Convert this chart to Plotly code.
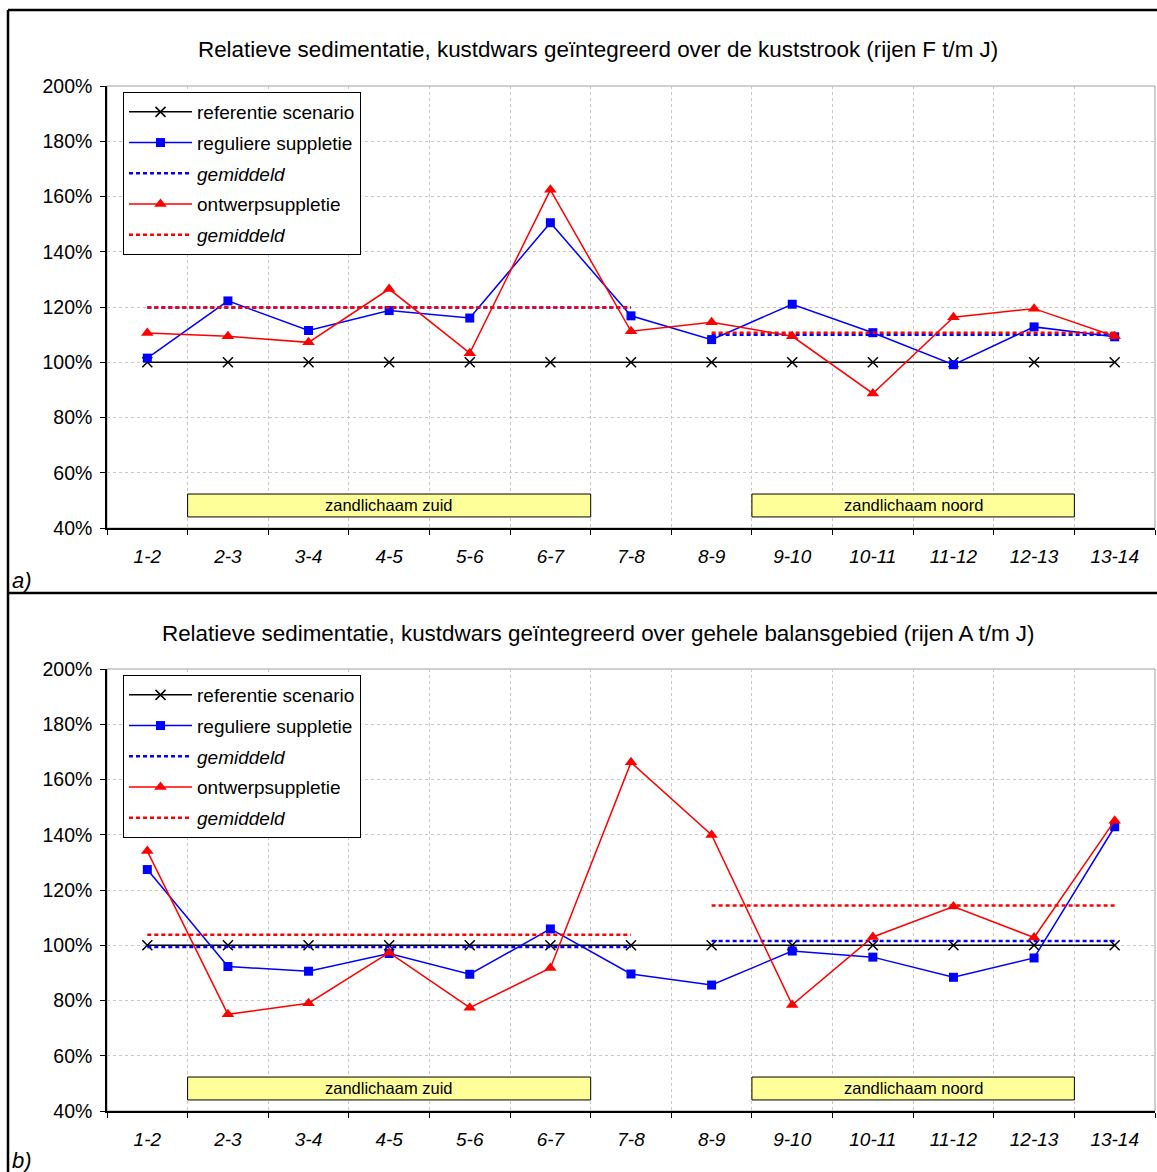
import plotly.graph_objects as go

# ---- data -------------------------------------------------------------
categories = ["1-2", "2-3", "3-4", "4-5", "5-6", "6-7", "7-8",
              "8-9", "9-10", "10-11", "11-12", "12-13", "13-14"]

referentie = [100, 100, 100, 100, 100, 100, 100, 100, 100, 100, 100, 100, 100]

# a) kuststrook (rijen F t/m J)
a_regulier = [101.5, 122.2, 111.5, 118.7, 116.0, 150.5, 116.8,
              108.2, 121.0, 110.7, 99.1, 112.8, 109.2]
a_ontwerp = [110.6, 109.4, 107.2, 126.5, 103.3, 162.4, 111.2,
             114.5, 109.4, 88.7, 116.3, 119.4, 109.4]
a_gem_regulier = [119.8, 110.0]   # zuid, noord
a_gem_ontwerp = [119.8, 110.7]

# b) gehele balansgebied (rijen A t/m J)
b_regulier = [127.4, 92.3, 90.6, 97.0, 89.5, 105.9, 89.6,
              85.6, 97.9, 95.7, 88.4, 95.4, 142.9]
b_ontwerp = [134.1, 75.0, 79.0, 97.3, 77.4, 91.8, 166.2,
             139.9, 78.4, 103.0, 114.0, 102.8, 145.1]
b_gem_regulier = [99.4, 101.5]
b_gem_ontwerp = [103.8, 114.4]

# averaging stretches (first/last category of each)
zuid_span = ["1-2", "7-8"]
noord_span = ["8-9", "13-14"]

# sand bodies: category-index extents
zand_labels = ["zandlichaam zuid", "zandlichaam noord"]
zand_x = [(0.5, 5.5), (7.5, 11.5)]
zand_y = (44.0, 52.3)

titles = [
    "Relatieve sedimentatie, kustdwars geïntegreerd over de kuststrook (rijen F t/m J)",
    "Relatieve sedimentatie, kustdwars geïntegreerd over gehele balansgebied (rijen A t/m J)",
]
panel_tags = ["a)", "b)"]

# ---- page geometry (pixels) -------------------------------------------
W, H = 1157, 1172
FONT = "Liberation Sans, Arial, sans-serif"


def px(x):
    return x / W


def py(y):
    return 1 - y / H


BLUE = "#0000FF"
RED = "#FF0000"

fig = go.Figure()

panels = [
    dict(top=86, bottom=528, title_y=50, tag_y=580, legend_top=92,
         reg=a_regulier, ont=a_ontwerp, greg=a_gem_regulier, gont=a_gem_ontwerp),
    dict(top=669, bottom=1111, title_y=633, tag_y=1160, legend_top=675,
         reg=b_regulier, ont=b_ontwerp, greg=b_gem_regulier, gont=b_gem_ontwerp),
]


def mean_xy(levels):
    xs = [zuid_span[0], zuid_span[1], None, noord_span[0], noord_span[1]]
    ys = [levels[0], levels[0], None, levels[1], levels[1]]
    return xs, ys


shapes = []
annotations = []

for i, p in enumerate(panels):
    n = "" if i == 0 else str(i + 1)
    xa, ya = "x" + n, "y" + n
    lg = "legend" + n

    fig.add_trace(go.Scatter(
        x=categories, y=referentie, name="referentie scenario",
        mode="lines+markers", xaxis=xa, yaxis=ya, legend=lg, legendgroup=f"r{i}",
        line=dict(color="black", width=1.5),
        marker=dict(symbol="x-thin", size=10, line=dict(color="black", width=1.5)),
    ))
    fig.add_trace(go.Scatter(
        x=categories, y=p["reg"], name="reguliere suppletie",
        mode="lines+markers", xaxis=xa, yaxis=ya, legend=lg, legendgroup=f"b{i}",
        line=dict(color=BLUE, width=1.5),
        marker=dict(symbol="square", size=9, color=BLUE),
    ))
    xs, ys = mean_xy(p["greg"])
    fig.add_trace(go.Scatter(
        x=xs, y=ys, name="<i>gemiddeld</i>", mode="lines", connectgaps=False,
        xaxis=xa, yaxis=ya, legend=lg, legendgroup=f"bm{i}",
        line=dict(color=BLUE, width=2.5, dash="4px,3px"),
    ))
    fig.add_trace(go.Scatter(
        x=categories, y=p["ont"], name="ontwerpsuppletie",
        mode="lines+markers", xaxis=xa, yaxis=ya, legend=lg, legendgroup=f"o{i}",
        line=dict(color=RED, width=1.5),
        marker=dict(symbol="triangle-up", size=11, color=RED),
    ))
    xs, ys = mean_xy(p["gont"])
    fig.add_trace(go.Scatter(
        x=xs, y=ys, name="<i>gemiddeld</i>", mode="lines", connectgaps=False,
        xaxis=xa, yaxis=ya, legend=lg, legendgroup=f"om{i}",
        line=dict(color=RED, width=2.5, dash="4px,3px"),
    ))

    dom_y = [py(p["bottom"]), py(p["top"])]
    axis_common = dict(
        showline=True, linecolor="black", linewidth=1.5,
        ticks="outside", ticklen=5, tickcolor="black", tickwidth=1,
        showgrid=True, gridcolor="#C8C8C8", gridwidth=1, griddash="3px,3px",
        zeroline=False, fixedrange=True, automargin=False,
    )
    fig.update_layout({
        "xaxis" + n: dict(
            axis_common, domain=[px(107), px(1155)], anchor=ya,
            type="category", categoryorder="array", categoryarray=categories,
            range=[-0.5, 12.5], tickson="boundaries", ticklabelstandoff=10,
            tickfont=dict(family=FONT, size=19, color="black", style="italic"),
        ),
        "yaxis" + n: dict(
            axis_common, domain=dom_y, anchor=xa,
            range=[40, 200], dtick=20, ticksuffix="%", ticklabelstandoff=4,
            tickfont=dict(family=FONT, size=19.5, color="black"),
        ),
        lg: dict(
            x=px(123), y=py(p["legend_top"]), xanchor="left", yanchor="top",
            bgcolor="white", bordercolor="black", borderwidth=1,
            font=dict(family=FONT, size=19, color="black"),
            traceorder="grouped", tracegroupgap=3, itemwidth=63,
        ),
    })

    # thin grey border along the top and right of the plot area
    shapes.append(dict(type="rect", xref=xa + " domain", yref=ya + " domain",
                       x0=0, x1=1, y0=0, y1=1, line=dict(color="#A0A0A0", width=1),
                       layer="below"))

    # sand body boxes
    for lab, (x0, x1) in zip(zand_labels, zand_x):
        shapes.append(dict(type="rect", xref=xa, yref=ya, x0=x0, x1=x1,
                           y0=zand_y[0], y1=zand_y[1], fillcolor="#FFFF99",
                           line=dict(color="black", width=1), layer="above"))
        annotations.append(dict(xref=xa, yref=ya, x=(x0 + x1) / 2,
                                y=(zand_y[0] + zand_y[1]) / 2, text=lab,
                                showarrow=False,
                                font=dict(family=FONT, size=16.5, color="black")))

    annotations.append(dict(xref="paper", yref="paper", x=px(598), y=py(p["title_y"]),
                            text=titles[i], showarrow=False, xanchor="center",
                            yanchor="middle",
                            font=dict(family=FONT, size=22.4, color="black")))
    annotations.append(dict(xref="paper", yref="paper", x=px(10), y=py(p["tag_y"]),
                            text=f"<i>{panel_tags[i]}</i>", showarrow=False,
                            xanchor="left", yanchor="middle",
                            font=dict(family=FONT, size=22, color="black")))

# outer frame (top, left) and panel divider
frame = dict(color="black", width=2.5)
for x0, y0, x1, y1 in [(8, 10, 1157, 10), (8, 10, 8, 1172), (8, 593, 1157, 593)]:
    shapes.append(dict(type="line", xref="paper", yref="paper",
                       x0=px(x0), y0=py(y0), x1=px(x1), y1=py(y1), line=frame))

fig.update_layout(
    width=W, height=H,
    margin=dict(l=0, r=0, t=0, b=0, autoexpand=False),
    paper_bgcolor="white", plot_bgcolor="white",
    showlegend=True, shapes=shapes, annotations=annotations,
    font=dict(family=FONT, color="black"),
)

fig.write_html("out.html")
